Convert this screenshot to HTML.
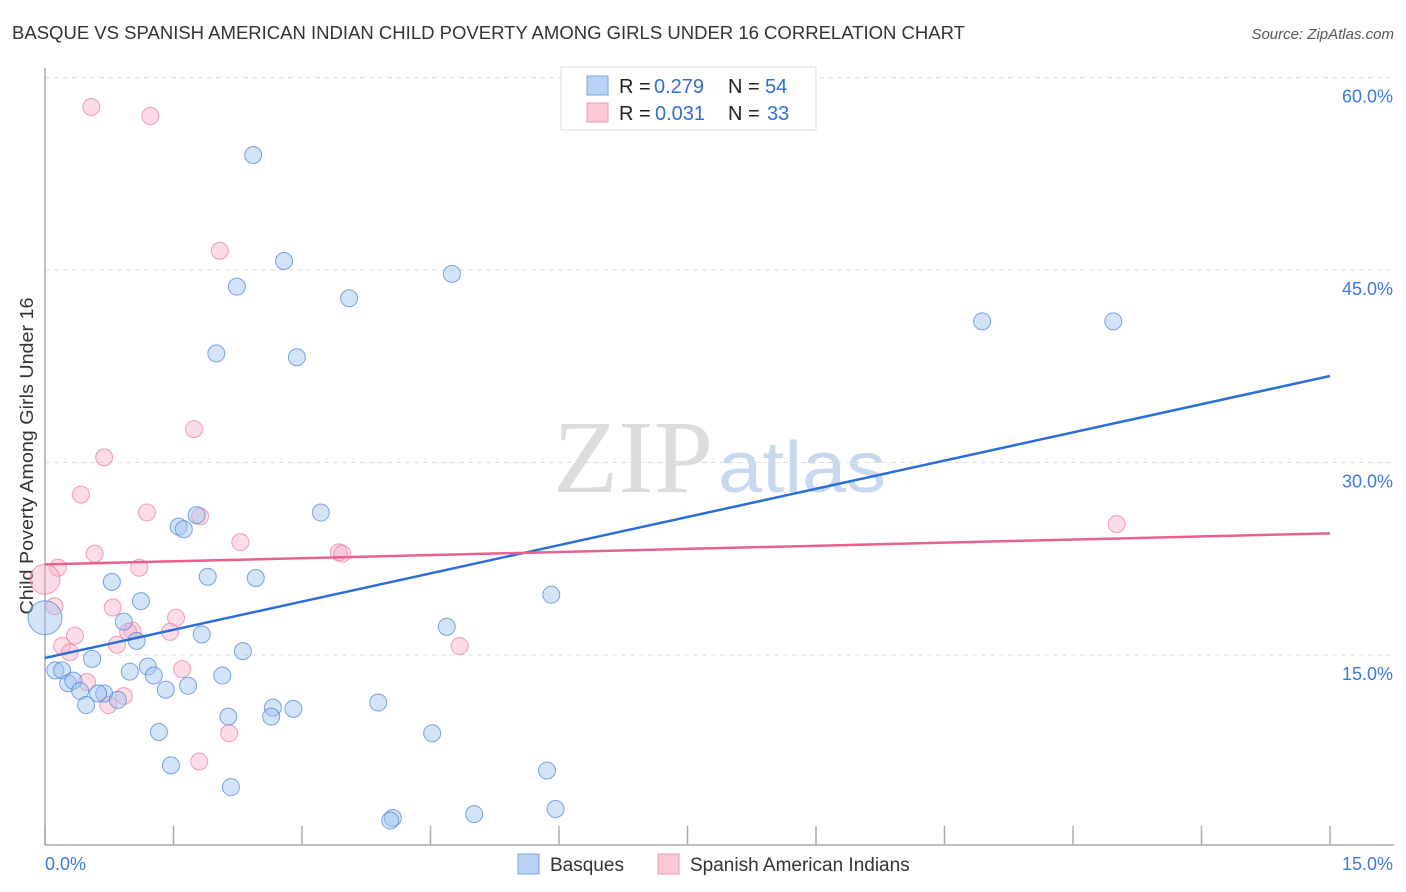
<!DOCTYPE html>
<html><head><meta charset="utf-8"><style>
body{margin:0;background:#fff;font-family:"Liberation Sans",sans-serif}
svg{display:block}
</style></head><body>
<svg id="c" width="1406" height="892">
<text x="12" y="39" font-size="18" fill="#333" textLength="953" lengthAdjust="spacingAndGlyphs">BASQUE VS SPANISH AMERICAN INDIAN CHILD POVERTY AMONG GIRLS UNDER 16 CORRELATION CHART</text>
<text x="1394" y="39" font-size="15" fill="#555" font-style="italic" text-anchor="end">Source: ZipAtlas.com</text>
<text x="553" y="492" font-size="104" fill="#ddd" font-family="Liberation Serif" textLength="160" lengthAdjust="spacingAndGlyphs">ZIP</text>
<text x="718" y="492" font-size="72" fill="#c8d8ee" textLength="168" lengthAdjust="spacingAndGlyphs">atlas</text>
<text transform="translate(33,456) rotate(-90)" font-size="18" fill="#333" text-anchor="middle" textLength="317" lengthAdjust="spacingAndGlyphs">Child Poverty Among Girls Under 16</text>
<g id="grid"></g><g id="pts"></g><g id="lines"></g>
<g>
<rect x="561" y="67" width="255" height="63" fill="#fff" stroke="#ddd"/>
<rect x="587" y="76" width="21" height="19" fill="#b8d3f5" stroke="#7aa6e0"/>
<rect x="587" y="103" width="21" height="19" fill="#fbc8d6" stroke="#ee9ab3"/>
<text y="93" font-size="20" fill="#222"><tspan x="619">R =</tspan><tspan x="654" fill="#2f6fd0">0.279</tspan><tspan x="728">N =</tspan><tspan x="765" fill="#2f6fd0">54</tspan></text>
<text y="120" font-size="20" fill="#222"><tspan x="619">R =</tspan><tspan x="655" fill="#2f6fd0">0.031</tspan><tspan x="728">N =</tspan><tspan x="767" fill="#2f6fd0">33</tspan></text>
</g>
<g>
<rect x="518" y="854" width="21" height="20" fill="#b8d3f5" stroke="#7aa6e0"/>
<text x="550" y="871" font-size="19" fill="#333">Basques</text>
<rect x="658" y="854" width="21" height="20" fill="#fbc8d6" stroke="#ee9ab3"/>
<text x="690" y="871" font-size="19" fill="#333">Spanish American Indians</text>
</g>
</svg>
<script>
const yTicks=[15,30,45,60];
const yTickLabels=["15.0%","30.0%","45.0%","60.0%"];
const xTicks=[0,1.5,3,4.5,6,7.5,9,10.5,12,13.5,15];
const basqueX=[2.43,2.79,2.24,4.75,3.55,2.00,2.94,10.94,12.47,1.77,3.22,1.56,1.62,0.78,1.90,2.46,5.91,1.12,0.92,1.07,4.69,1.83,2.31,0.55,0.12,0.20,0.99,1.20,1.27,0.27,0.33,0.41,1.41,1.67,2.07,0.69,0.62,0.85,0.48,2.66,2.90,3.89,2.14,2.64,1.33,4.52,1.47,5.86,2.17,5.96,4.06,4.03,5.01,0.0];
const basqueY=[53.96,45.7,43.7,44.7,42.8,38.5,38.2,41.0,41.0,25.9,26.1,25.0,24.8,20.7,21.1,21.0,19.7,19.2,17.6,16.1,17.2,16.6,15.3,14.7,13.8,13.8,13.7,14.1,13.4,12.8,13.0,12.2,12.3,12.6,13.4,12.0,12.0,11.5,11.1,10.9,10.8,11.3,10.2,10.2,9.0,8.9,6.4,6.0,4.7,3.0,2.3,2.1,2.6,17.9];
const spanishX=[0.54,1.23,2.04,1.74,0.69,0.42,1.19,1.81,2.28,0.58,3.43,3.47,1.10,0.15,0.0,0.11,0.79,1.53,1.02,0.97,1.46,0.35,0.20,0.84,0.29,1.60,4.84,0.49,0.92,0.74,2.15,1.80,12.51];
const spanishY=[57.7,57.0,46.5,32.6,30.4,27.5,26.1,25.8,23.8,22.9,23.0,22.9,21.8,21.8,20.9,18.8,18.7,17.9,16.9,16.8,16.8,16.5,15.7,15.8,15.2,13.9,15.7,12.9,11.8,11.1,8.9,6.7,25.2];
const basqueTrend=[14.77,36.74];
const spanishTrend=[22.06,24.48];
const NS="http://www.w3.org/2000/svg";
const X=v=>45+v/15*1285, Y=v=>847.5-v/15*192.5;
function mk(t,a,p){const e=document.createElementNS(NS,t);for(const k in a)e.setAttribute(k,a[k]);p.appendChild(e);return e;}
const g=document.getElementById('grid');
yTicks.forEach((t,i)=>{
 const l=mk('line',{x1:45,x2:1394,y1:Y(t),y2:Y(t),stroke:'#ddd','stroke-dasharray':'5,4'},g);
 
 
 const tx=mk('text',{x:1393,y:Y(t)+25,'font-size':18,fill:'#3d7bd6','text-anchor':'end'},g);
 tx.textContent=yTickLabels[i];
 
 
});
mk('line',{x1:45,x2:45,y1:68,y2:845,stroke:'#aaa','stroke-width':1.5},g);
mk('line',{x1:45,x2:1394,y1:845,y2:845,stroke:'#aaa','stroke-width':1.5},g);
xTicks.forEach(t=>{const l=mk('line',{x1:X(t),x2:X(t),y1:826,y2:845,stroke:'#aaa','stroke-width':1.5},g);
 
 });
let t0=mk('text',{x:45,y:870,'font-size':18,fill:'#3d7bd6'},g);t0.textContent='0.0%';


let t1=mk('text',{x:1393,y:870,'font-size':18,fill:'#3d7bd6','text-anchor':'end'},g);t1.textContent='15.0%';


const p=document.getElementById('pts');
spanishX.forEach((x,i)=>{const c=mk('circle',{cx:X(x),cy:Y(spanishY[i]),r:x===0?15:8.5,fill:'rgba(248,170,195,0.4)',stroke:'rgba(236,120,155,0.7)'},p);
 
 });
basqueY.forEach((y,i)=>{const x=basqueX[i];const c=mk('circle',{cx:X(x),cy:Y(y),r:x===0?17:8.5,fill:'rgba(160,195,240,0.45)',stroke:'rgba(70,130,215,0.7)'},p);
 
 });
const L=document.getElementById('lines');
const bl=mk('line',{x1:X(0),x2:X(15),y1:Y(basqueTrend[0]),y2:Y(basqueTrend[1]),stroke:'#2a6fd6','stroke-width':2.5},L);


const sl=mk('line',{x1:X(0),x2:X(15),y1:Y(spanishTrend[0]),y2:Y(spanishTrend[1]),stroke:'#e8608e','stroke-width':2.5},L);


</script>
</body></html>
